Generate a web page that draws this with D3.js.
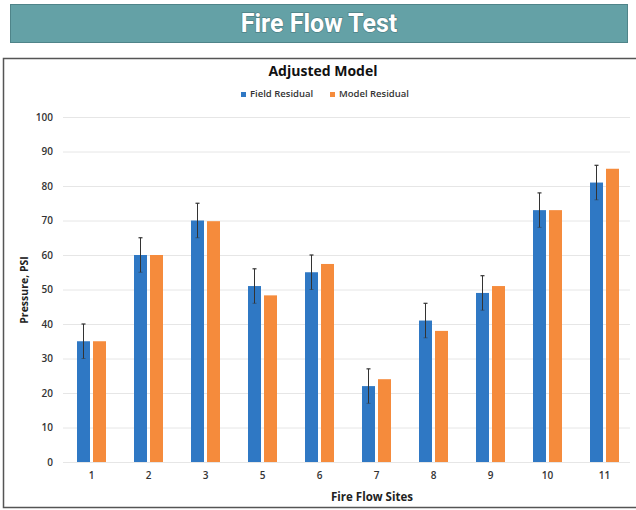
<!DOCTYPE html>
<html>
<head>
<meta charset="utf-8">
<script src="https://cdn.jsdelivr.net/npm/d3@7"></script>
<style>
  html, body { margin: 0; padding: 0; background: #fff; }
  svg { display: block; }
</style>
</head>
<body>
<svg id="chart" width="636" height="510"></svg>
<script>
// Fire flow test sites and pressures (PSI)
const sites = ["1", "2", "3", "5", "6", "7", "8", "9", "10", "11"];
const fieldResidual = [35, 60, 70, 51, 55, 22, 41, 49, 73, 81];
const modelResidual = [35, 60, 69.8, 48.3, 57.4, 24, 38, 51, 73, 85];
const fieldError = [5, 5, 5, 5, 5, 5, 5, 5, 5, 5];
const yTicks = [0, 10, 20, 30, 40, 50, 60, 70, 80, 90, 100];
const seriesNames = ["Field Residual", "Model Residual"];
const seriesColors = ["#2f78c4", "#f58b3c"];

const svg = d3.select("#chart");
const labelFont = "'Open Sans', 'DejaVu Sans', sans-serif";

// Header banner
svg.append("rect")
  .attr("x", 10.5).attr("y", 4.5).attr("width", 617).attr("height", 38)
  .attr("fill", "#64a1a6").attr("stroke", "#4f8489").attr("stroke-width", 1);
svg.append("text")
  .attr("x", 319).attr("y", 32)
  .attr("text-anchor", "middle")
  .attr("font-family", "'Liberation Sans Narrow', 'Roboto', sans-serif")
  .attr("font-weight", "bold").attr("font-size", 25)
  .attr("fill", "#ffffff")
  .style("paint-order", "stroke")
  .attr("stroke", "rgba(40,70,75,0.35)").attr("stroke-width", 1.5)
  .text("Fire Flow Test");

// Chart frame
svg.append("rect")
  .attr("x", 3.5).attr("y", 58.5).attr("width", 640).attr("height", 449)
  .attr("fill", "#fff").attr("stroke", "#555").attr("stroke-width", 1.5);

const margin = { left: 63, right: 633, top: 117, bottom: 462 };

const x = d3.scaleBand().domain(sites)
  .range([margin.left, margin.right]).paddingInner(0).paddingOuter(0);
const y = d3.scaleLinear().domain([0, 100]).range([margin.bottom, margin.top]);

// Gridlines
svg.append("g").selectAll("line").data(yTicks).join("line")
  .attr("x1", margin.left).attr("x2", margin.right - 3)
  .attr("y1", d => y(d) + 0.5).attr("y2", d => y(d) + 0.5)
  .attr("stroke", "#e6e6e6").attr("stroke-width", 1);

// Y axis labels
const yAxis = svg.append("g")
  .attr("transform", `translate(${margin.left - 2},0)`)
  .call(d3.axisLeft(y).tickValues(yTicks).tickSize(0).tickPadding(8));
yAxis.select(".domain").remove();
yAxis.selectAll("text")
  .attr("font-family", labelFont).attr("font-weight", 600)
  .attr("font-size", 10).attr("fill", "#333");

// X axis labels
const xAxis = svg.append("g")
  .attr("transform", `translate(0,${margin.bottom})`)
  .call(d3.axisBottom(x).tickSize(0).tickPadding(10));
xAxis.select(".domain").remove();
xAxis.selectAll("text")
  .attr("font-family", labelFont).attr("font-weight", 600)
  .attr("font-size", 10).attr("fill", "#333");

// Grouped bars
const barW = 13, gap = 3;
const groups = svg.append("g").selectAll("g").data(sites).join("g")
  .attr("transform", d => `translate(${x(d) + x.bandwidth() / 2},0)`);

groups.append("rect")
  .attr("x", -barW - gap / 2)
  .attr("y", (d, i) => y(fieldResidual[i]))
  .attr("width", barW)
  .attr("height", (d, i) => y(0) - y(fieldResidual[i]))
  .attr("fill", seriesColors[0]);

groups.append("rect")
  .attr("x", gap / 2)
  .attr("y", (d, i) => y(modelResidual[i]))
  .attr("width", barW)
  .attr("height", (d, i) => y(0) - y(modelResidual[i]))
  .attr("fill", seriesColors[1]);

// Error bars on field readings
const ex = -barW / 2 - gap / 2;
groups.append("line")
  .attr("x1", ex).attr("x2", ex)
  .attr("y1", (d, i) => y(fieldResidual[i] + fieldError[i]))
  .attr("y2", (d, i) => y(fieldResidual[i] - fieldError[i]))
  .attr("stroke", "#333").attr("stroke-width", 1);
groups.append("line")
  .attr("x1", ex - 2).attr("x2", ex + 2)
  .attr("y1", (d, i) => y(fieldResidual[i] + fieldError[i]))
  .attr("y2", (d, i) => y(fieldResidual[i] + fieldError[i]))
  .attr("stroke", "#333").attr("stroke-width", 1.2);
groups.append("line")
  .attr("x1", ex - 2).attr("x2", ex + 2)
  .attr("y1", (d, i) => y(fieldResidual[i] - fieldError[i]))
  .attr("y2", (d, i) => y(fieldResidual[i] - fieldError[i]))
  .attr("stroke", "#333").attr("stroke-opacity", 0.5).attr("stroke-width", 1);

// Chart title
svg.append("text")
  .attr("x", 323).attr("y", 76)
  .attr("text-anchor", "middle")
  .attr("font-family", labelFont).attr("font-weight", "bold")
  .attr("font-size", 14).attr("fill", "#111")
  .text("Adjusted Model");

// Legend
const legendX = [241, 330];
const legend = svg.append("g").selectAll("g").data(seriesNames).join("g")
  .attr("transform", (d, i) => `translate(${legendX[i]},97)`);
legend.append("rect")
  .attr("x", 0).attr("y", -5).attr("width", 5).attr("height", 5)
  .attr("fill", (d, i) => seriesColors[i]);
legend.append("text")
  .attr("x", 9).attr("y", 0)
  .attr("font-family", labelFont).attr("font-weight", 600)
  .attr("font-size", 9.5).attr("fill", "#333")
  .text(d => d);

// Axis titles
svg.append("text")
  .attr("transform", "translate(28,290) rotate(-90)")
  .attr("text-anchor", "middle")
  .attr("font-family", labelFont).attr("font-weight", "bold")
  .attr("font-size", 10.5).attr("fill", "#222")
  .text("Pressure, PSI");

svg.append("text")
  .attr("x", 372).attr("y", 501)
  .attr("text-anchor", "middle")
  .attr("font-family", labelFont).attr("font-weight", "bold")
  .attr("font-size", 11.5).attr("fill", "#222")
  .text("Fire Flow Sites");
</script>
</body>
</html>
